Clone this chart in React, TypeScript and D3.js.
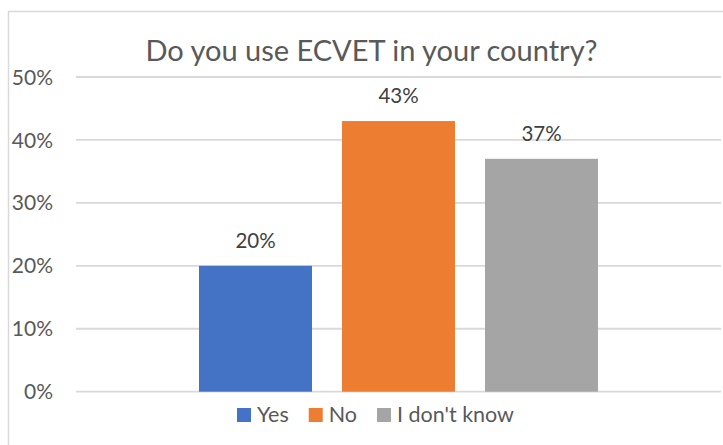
import React, { useEffect, useRef } from "react";
import * as d3 from "d3";

const categories = ["Yes", "No", "I don't know"];
const values = [0.2, 0.43, 0.37];
const colors = ["#4472C4", "#ED7D31", "#A5A5A5"];
const yTicks = [0, 0.1, 0.2, 0.3, 0.4, 0.5];
const title = "Do you use ECVET in your country?";

const W = 723;
const H = 445;

export default function App() {
  const ref = useRef<SVGSVGElement>(null);

  useEffect(() => {
    const svg = d3.select(ref.current);
    svg.selectAll("*").remove();
    const font = "Lato, 'Open Sans', sans-serif";
    const textColor = "#595959";
    const gridColor = "#D9D9D9";

    // chart frame (extends beyond the visible area on right and bottom)
    svg
      .append("rect")
      .attr("x", 8.5)
      .attr("y", 11.5)
      .attr("width", 740)
      .attr("height", 470)
      .attr("fill", "#fff")
      .attr("stroke", gridColor)
      .attr("stroke-width", 1.5);

    const plotLeft = 76;
    const plotRight = 721;
    const plotTop = 77;
    const plotBottom = 391.7;

    const y = d3.scaleLinear().domain([0, 0.5]).range([plotBottom, plotTop]);
    const center = (plotLeft + plotRight) / 2;
    const groupW = 399;
    const x = d3
      .scaleBand<string>()
      .domain(categories)
      .range([center - groupW / 2, center + groupW / 2])
      .paddingInner(30 / 143)
      .paddingOuter(0);

    // gridlines
    svg
      .append("g")
      .selectAll("line")
      .data(yTicks)
      .join("line")
      .attr("x1", plotLeft)
      .attr("x2", plotRight)
      .attr("y1", (d) => y(d))
      .attr("y2", (d) => y(d))
      .attr("stroke", gridColor)
      .attr("stroke-width", 1.8);

    // tick labels
    const fmt = d3.format(".0%");
    svg
      .append("g")
      .selectAll("text")
      .data(yTicks)
      .join("text")
      .attr("x", 53)
      .attr("y", (d) => y(d))
      .attr("dy", "0.36em")
      .attr("text-anchor", "end")
      .attr("font-family", font)
      .attr("font-size", 21)
      .attr("fill", textColor)
      .text((d) => fmt(d));

    // bars
    svg
      .append("g")
      .selectAll("rect")
      .data(categories)
      .join("rect")
      .attr("x", (d) => x(d)!)
      .attr("width", x.bandwidth())
      .attr("y", (d, i) => y(values[i]))
      .attr("height", (d, i) => y(0) - y(values[i]))
      .attr("fill", (d, i) => colors[i]);

    // data labels
    svg
      .append("g")
      .selectAll("text")
      .data(categories)
      .join("text")
      .attr("x", (d) => x(d)! + x.bandwidth() / 2)
      .attr("y", (d, i) => y(values[i]) - 18)
      .attr("text-anchor", "middle")
      .attr("font-family", font)
      .attr("font-size", 20.5)
      .attr("fill", "#404040")
      .text((d, i) => fmt(values[i]));

    // title
    svg
      .append("text")
      .attr("x", 371.5)
      .attr("y", 61)
      .attr("text-anchor", "middle")
      .attr("font-family", font)
      .attr("font-size", 29)
      .attr("fill", textColor)
      .text(title);

    // legend
    const legend = svg.append("g");
    const sw = 14;
    const gapText = 6;
    const gapItem = 20;
    const baseline = 422;
    const items = categories.map((c, i) => {
      const g = legend.append("g");
      g.append("rect")
        .attr("x", 0)
        .attr("y", baseline - sw)
        .attr("width", sw)
        .attr("height", sw)
        .attr("fill", colors[i]);
      const t = g
        .append("text")
        .attr("x", sw + gapText)
        .attr("y", baseline)
        .attr("font-family", font)
        .attr("font-size", 21.5)
        .attr("fill", textColor)
        .text(c);
      const tw = (t.node() as SVGTextElement).getComputedTextLength();
      return { g, w: sw + gapText + tw };
    });
    const total = d3.sum(items, (d) => d.w) + gapItem * (items.length - 1);
    let cx = 375.5 - total / 2;
    items.forEach((it) => {
      it.g.attr("transform", `translate(${cx},0)`);
      cx += it.w + gapItem;
    });
  }, []);

  return (
    <svg
      ref={ref}
      width={W}
      height={H}
      style={{ position: "absolute", left: 0, top: 0, background: "#fff" }}
    />
  );
}
